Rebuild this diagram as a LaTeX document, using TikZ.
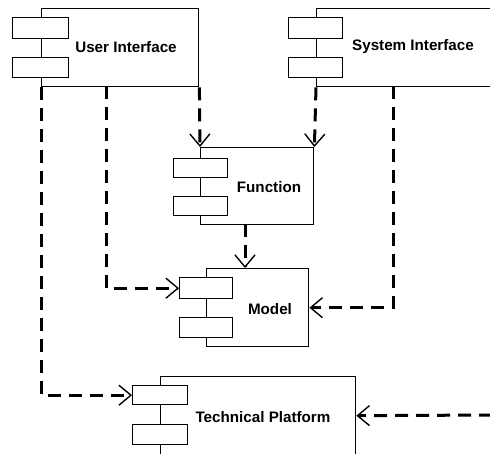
\documentclass[tikz,border=0pt]{standalone}
\usepackage{fontspec}
\setmainfont{Liberation Sans}
\usetikzlibrary{arrows.meta}
\begin{document}
\begin{tikzpicture}[x=1pt,y=-1pt,
  box/.style={draw=black,line width=1.4pt,fill=white,inner sep=0pt,anchor=north west},
  lbl/.style={font=\fontsize{15.2}{17}\selectfont\bfseries,inner sep=0pt},
  dep/.style={line width=3pt,dash pattern=on 13pt off 8pt,
    -{Straight Barb[line width=1.4pt,length=12pt,width=20pt]}}]
\useasboundingbox (0,0) rectangle (490,453);
\clip (0,0) rectangle (490,453);
% User Interface
\node[box,minimum width=157pt,minimum height=78pt] (ui) at (41,8) {};
\node[box,minimum width=56pt,minimum height=21pt] (ui1) at (12,17) {};
\node[box,minimum width=56pt,minimum height=20pt] (ui2) at (12,57) {};
\node[lbl] (uil) at (126,47) {User Interface};
% System Interface
\node[box,minimum width=200pt,minimum height=78pt] (si) at (316,8) {};
\node[box,minimum width=54pt,minimum height=21pt] (si1) at (288,17) {};
\node[box,minimum width=54pt,minimum height=20pt] (si2) at (288,57) {};
\node[lbl] (sil) at (413,47) {System Interface};
% Function
\node[box,minimum width=113pt,minimum height=77pt] (fn) at (200,147) {};
\node[box,minimum width=54pt,minimum height=19pt] (fn1) at (173,158) {};
\node[box,minimum width=54pt,minimum height=19pt] (fn2) at (173,196) {};
\node[lbl] (fnl) at (269,187) {Function};
% Model
\node[box,minimum width=102pt,minimum height=78pt] (md) at (206,268) {};
\node[box,minimum width=53pt,minimum height=21pt] (md1) at (179,277) {};
\node[box,minimum width=53pt,minimum height=20pt] (md2) at (179,317) {};
\node[lbl] (mdl) at (270,309) {Model};
% Technical Platform
\node[box,minimum width=195pt,minimum height=78pt] (tp) at (160,376) {};
\node[box,minimum width=55pt,minimum height=19pt] (tp1) at (132,385) {};
\node[box,minimum width=55pt,minimum height=20pt] (tp2) at (132,424) {};
\node[lbl] (tpl) at (263,417) {Technical Platform};
% connector end points
\coordinate (uiB) at (106,86);
\coordinate (siB) at (393,86);
\coordinate (fnB) at (245,224);
\coordinate (mdT) at (245,268);
\coordinate (rt) at (492,415);
% connectors
\draw[dep] (ui.south west) |- (tp1.west);
\draw[dep] (uiB) |- (md1.west);
\draw[dep] (ui.south east) -- (fn.north west);
\draw[dep] (si.south west) -- (fn.north east);
\draw[dep] (siB) |- (md.east);
\draw[dep] (fnB) -- (mdT);
\draw[dep] (rt) -- (tp.east);
\end{tikzpicture}
\end{document}
